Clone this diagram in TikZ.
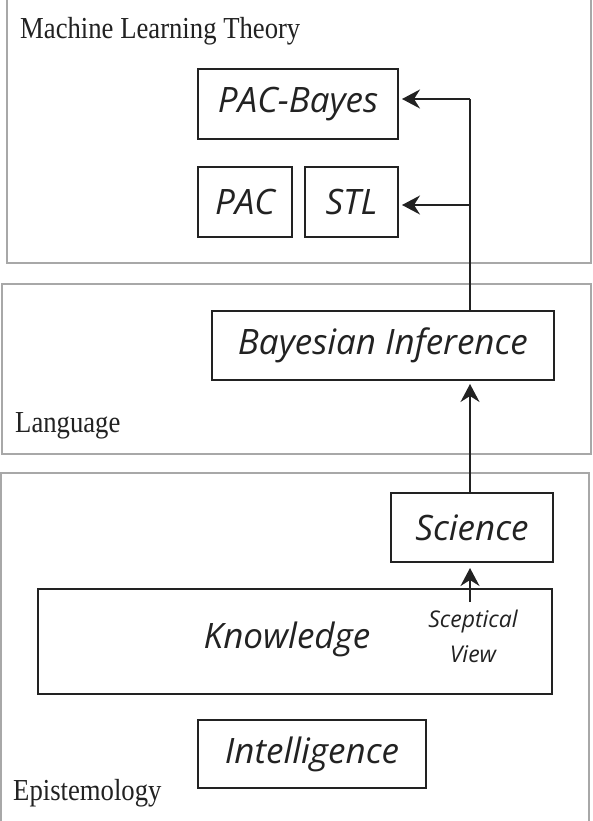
\documentclass[tikz,border=0pt]{standalone}
\usepackage{fontspec}
\usetikzlibrary{arrows.meta}
\newfontfamily\zonefont{Liberation Serif}[FakeStretch=0.875]
\newfontfamily\handfont{Open Sans}
\definecolor{zonegray}{HTML}{A8A8A8}
\definecolor{ink}{HTML}{222222}
\begin{document}
\begin{tikzpicture}[x=1pt,y=-1pt,
  zone/.style={draw=zonegray, line width=1.3pt},
  zonelabel/.style={font=\zonefont\fontsize{30.5}{36}\selectfont, anchor=base west, inner sep=0pt, text=ink},
  concept/.style={draw=ink, line width=2pt, inner sep=0pt, text=ink,
     font=\handfont\itshape\fontsize{35}{40}\selectfont},
  handtext/.style={inner sep=0pt, text=ink, font=\handfont\itshape\fontsize{35}{40}\selectfont},
  notetext/.style={inner sep=0pt, text=ink, align=center, font=\handfont\itshape\fontsize{23}{35}\selectfont},
  link/.style={draw=ink, line width=2pt},
  flow/.style={draw=ink, line width=2pt, -{Stealth[length=18pt,width=19pt,inset=6pt]}}
]
\useasboundingbox (0,0) rectangle (592,821);
\fill[white] (0,0) rectangle (592,821);

% zones
\draw[zone] (7,-5) rectangle (591,263);
\draw[zone] (2,284) rectangle (591,454);
\draw[zone] (1,473) rectangle (589,830);

\node[zonelabel] (mltlabel) at (20,39) {Machine Learning Theory};
\node[zonelabel] (langlabel) at (15,432) {Language};
\node[zonelabel] (epilabel) at (13,800) {Epistemology};

% concepts
\node[concept, minimum width=200, minimum height=70] (pacbayes) at (298,104) {PAC-Bayes};
\node[concept, minimum width=94, minimum height=70] (pac) at (245,202) {PAC};
\node[concept, minimum width=93, minimum height=70] (stl) at (351.5,202) {STL};
\node[concept, minimum width=342, minimum height=69] (bayes) at (383,345.5) {Bayesian Inference};
\node[concept, minimum width=162, minimum height=69] (science) at (472,527.5) {Science};
\node[concept, minimum width=514, minimum height=105] (know) at (295,641.5) {};
\node[handtext, anchor=base] (knowlabel) at (287,648) {Knowledge};
\node[notetext, anchor=south, text depth=0pt] (sceptic) at (473,663) {Sceptical\\View};
\node[concept, minimum width=228, minimum height=68] (intel) at (312,754) {Intelligence};

% connectors
\coordinate (trunk) at (470,99);
\coordinate (branch) at (470,205);
\coordinate (sceptail) at (470,602);
\draw[link] (bayes.north -| trunk) -- (trunk);
\draw[flow, shorten >=3pt] (trunk) -- (pacbayes.east |- trunk);
\draw[flow, shorten >=3pt] (branch) -- (stl.east |- branch);
\draw[flow, shorten >=3pt] (science.north -| trunk) -- (bayes.south -| trunk);
\draw[flow, shorten >=5pt] (sceptail) -- (science.south -| sceptail);
\end{tikzpicture}
\end{document}
